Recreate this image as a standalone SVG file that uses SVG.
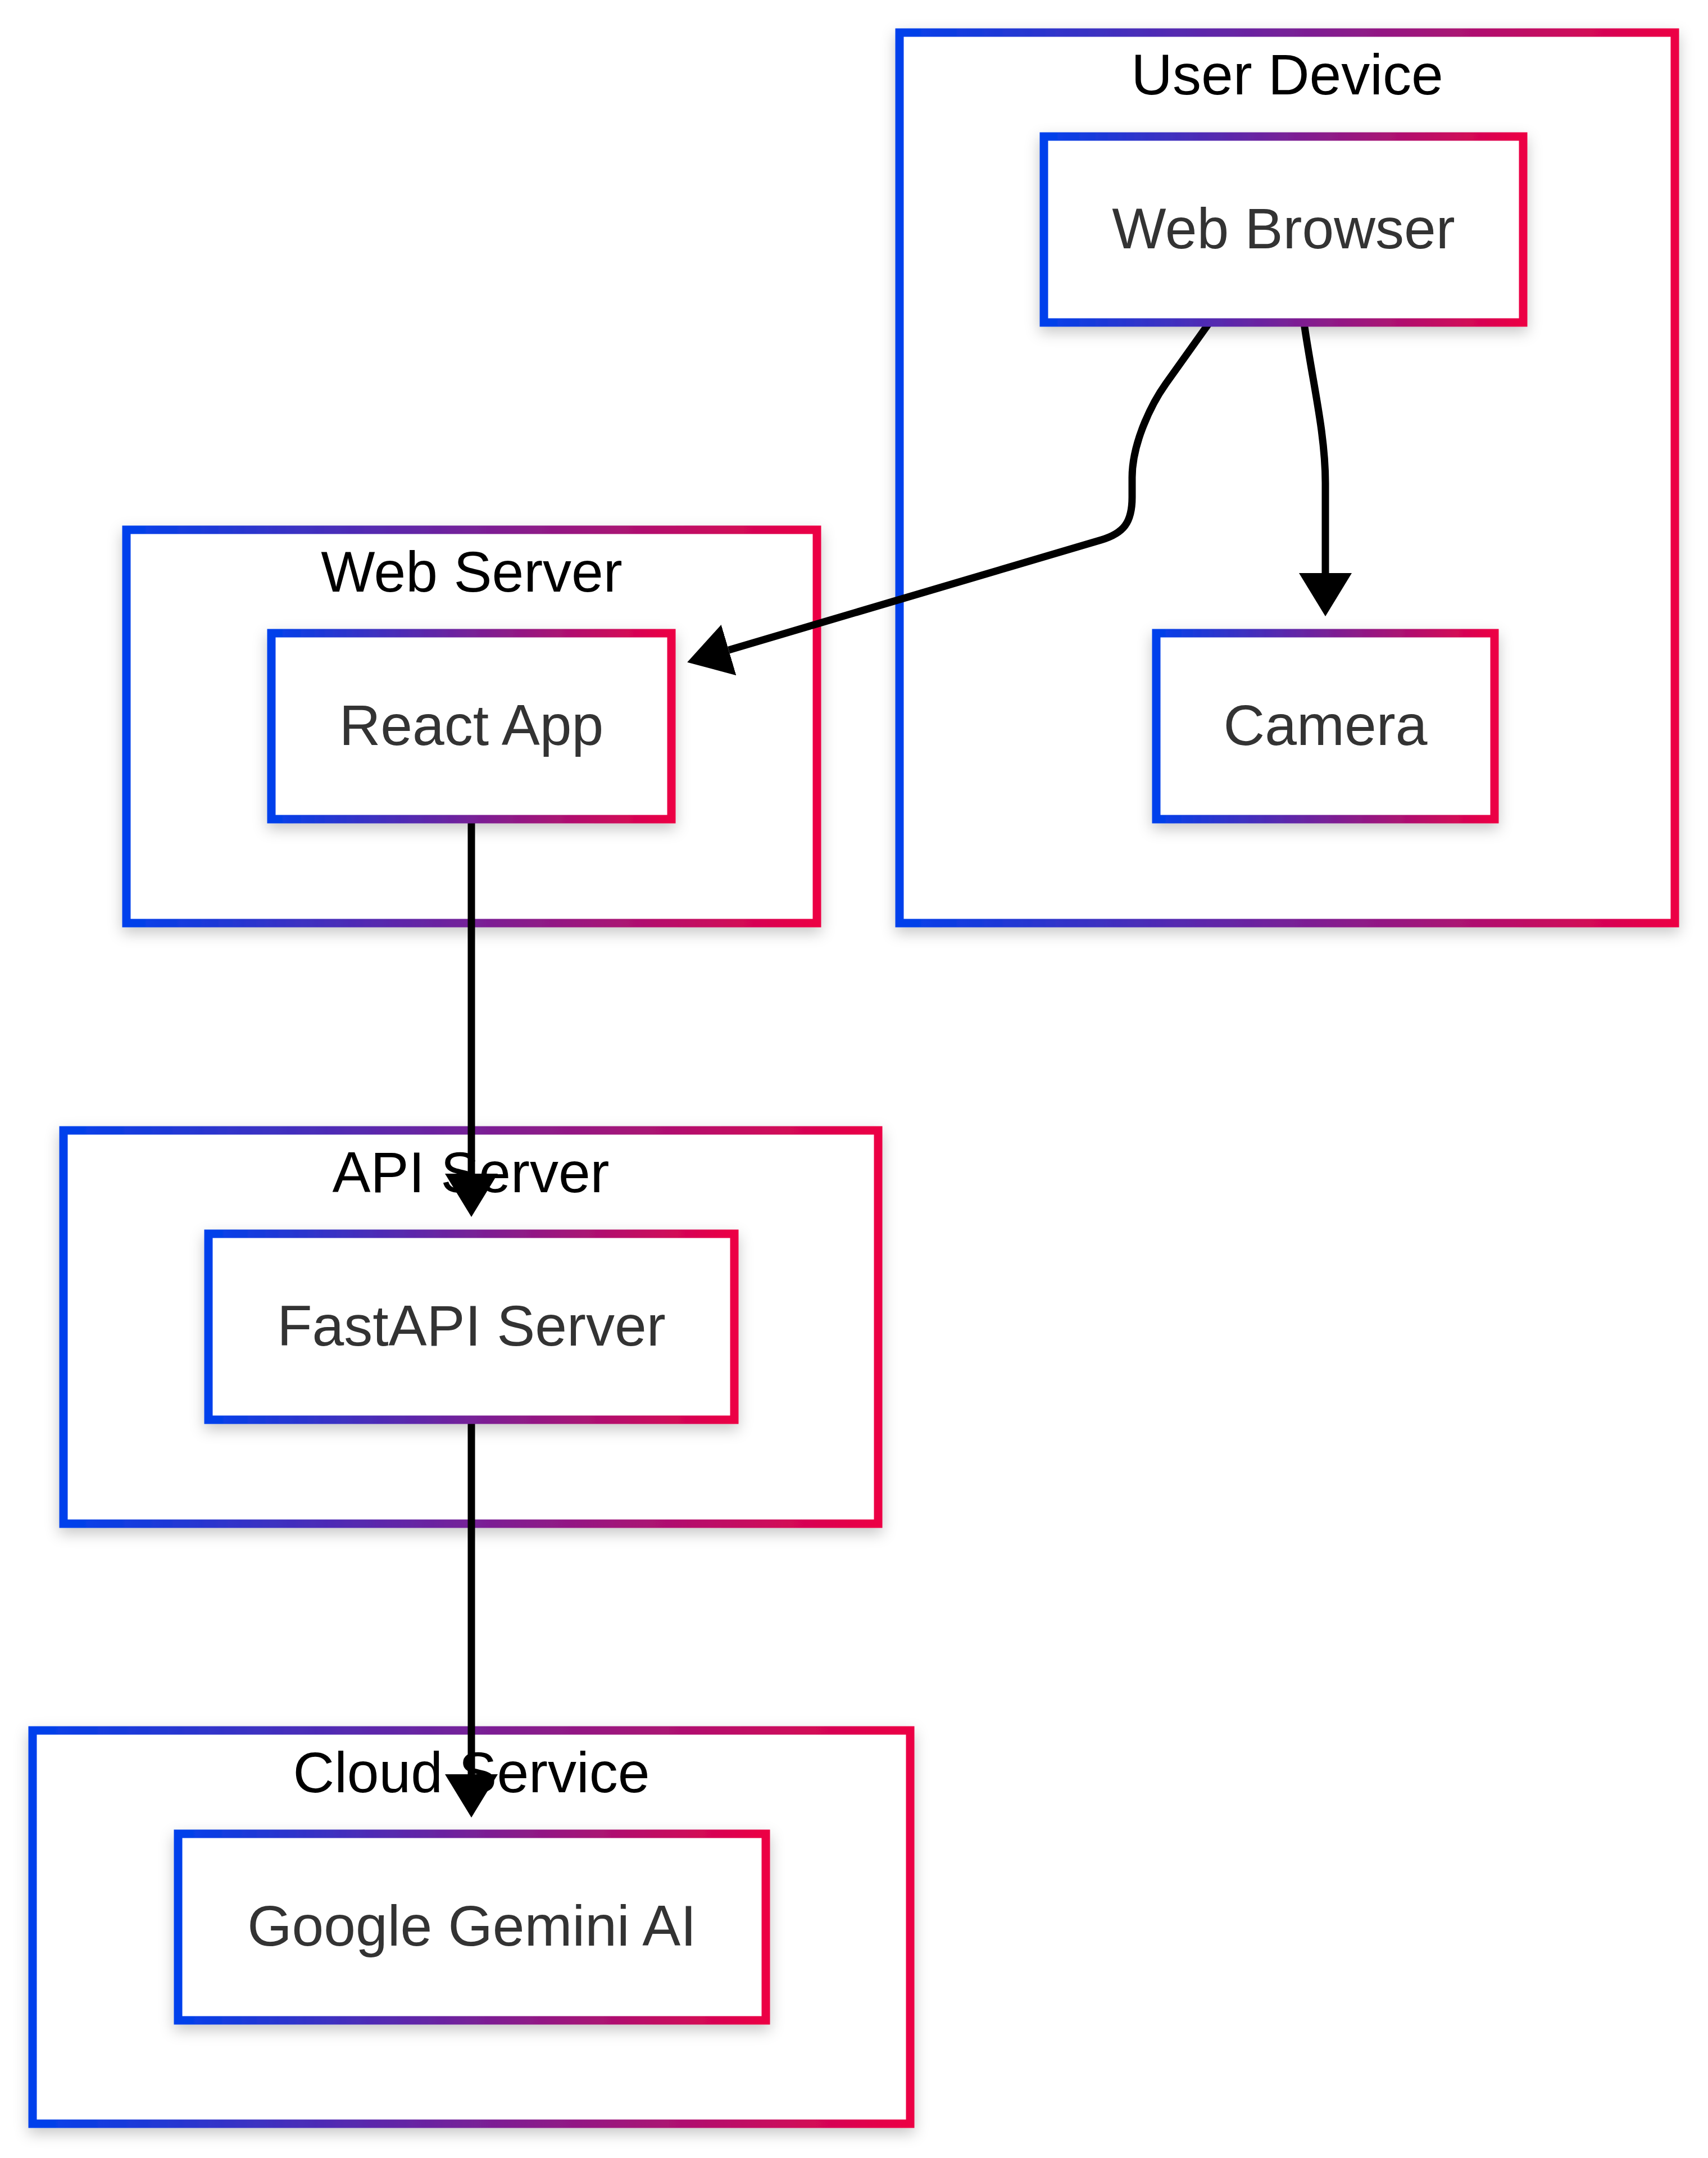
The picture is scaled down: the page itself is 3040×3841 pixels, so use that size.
<svg xmlns="http://www.w3.org/2000/svg" width="3040" height="3841" viewBox="0 0 3040 3841">
  <defs>
    <linearGradient id="grad" x1="0" y1="0" x2="1" y2="0">
      <stop offset="0" stop-color="#0041EC"/>
      <stop offset="1" stop-color="#EC0044"/>
    </linearGradient>
    <filter id="shadow" x="-15%" y="-15%" width="130%" height="140%">
      <feDropShadow dx="0" dy="10" stdDeviation="13" flood-color="#000" flood-opacity="0.22"/>
    </filter>
    <marker id="arrow" markerUnits="userSpaceOnUse" viewBox="0 0 77 94" refX="0" refY="47" markerWidth="77" markerHeight="94" orient="auto">
      <path d="M0,0 L77,47 L0,94 z" fill="#000"/>
    </marker>
    <style>
      .box { fill: #fff; stroke: url(#grad); stroke-width: 15; filter: url(#shadow); }
      .title { font-family: "Liberation Sans", Arial, sans-serif; font-size: 102px; fill: #000; text-anchor: middle; }
      .label { font-family: "Liberation Sans", Arial, sans-serif; font-size: 102px; fill: #333; text-anchor: middle; }
      .edge { fill: none; stroke: #000; stroke-width: 13; stroke-linejoin: round; marker-end: url(#arrow); }
    </style>
  </defs>
  <rect width="3040" height="3841" fill="#fff"/>

  <g id="clusters">
    <g id="cluster-user-device">
      <rect class="box" x="1601" y="58" width="1380" height="1585"/>
      <text class="title" x="2291" y="168">User Device</text>
    </g>
    <g id="cluster-web-server">
      <rect class="box" x="225" y="943" width="1229" height="700"/>
      <text class="title" x="839.5" y="1053">Web Server</text>
    </g>
    <g id="cluster-api-server">
      <rect class="box" x="113" y="2012" width="1450" height="700"/>
      <text class="title" x="838" y="2122">API Server</text>
    </g>
    <g id="cluster-cloud-service">
      <rect class="box" x="58" y="3080" width="1562" height="700"/>
      <text class="title" x="839" y="3190">Cloud Service</text>
    </g>
  </g>

  <g id="connectors">
    <path class="edge" d="M2152,575 L2075,683 C2048,721 2015,790 2015,850 L2015,885 C2015,930 2000,949 1960,961 L1297,1157"/>
    <path class="edge" d="M2321,575 C2336,680 2359,770 2359,860 L2359,1020"/>
    <path class="edge" d="M839,1458 L839,2089"/>
    <path class="edge" d="M839,2527 L839,3158"/>
  </g>

  <g id="nodes">
    <g id="node-web-browser">
      <rect class="box" x="1858" y="243" width="853" height="331"/>
      <text class="label" x="2284.5" y="442">Web Browser</text>
    </g>
    <g id="node-camera">
      <rect class="box" x="2058" y="1127" width="602" height="331"/>
      <text class="label" x="2359" y="1326">Camera</text>
    </g>
    <g id="node-react-app">
      <rect class="box" x="483" y="1127" width="712" height="331"/>
      <text class="label" x="839" y="1326">React App</text>
    </g>
    <g id="node-fastapi-server">
      <rect class="box" x="371" y="2196" width="936" height="331"/>
      <text class="label" x="839" y="2395">FastAPI Server</text>
    </g>
    <g id="node-google-gemini-ai">
      <rect class="box" x="317" y="3264" width="1046" height="332"/>
      <text class="label" x="840" y="3463">Google Gemini AI</text>
    </g>
  </g>
</svg>
